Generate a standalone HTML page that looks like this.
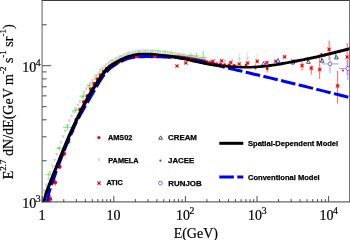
<!DOCTYPE html>
<html><head><meta charset="utf-8"><title>chart</title>
<style>html,body{margin:0;padding:0;background:#fff;}svg{display:block;will-change:transform;}</style>
</head><body>
<svg width="350" height="240" viewBox="0 0 350 240">
<defs><clipPath id="c"><rect x="42.5" y="1" width="307" height="200.6"/></clipPath></defs>
<g fill="none" stroke-width="1">
<line x1="41.60" y1="0.50" x2="350.00" y2="0.50" stroke="#3c3c3c"/>
<line x1="42.10" y1="0.50" x2="42.10" y2="202.40" stroke="#6c6c6c" stroke-width="1.1"/>
<line x1="41.60" y1="201.90" x2="350.00" y2="201.90" stroke="#666" stroke-width="1.1"/>
<line x1="349.50" y1="0.50" x2="349.50" y2="201.90" stroke="#777"/>
</g>
<g stroke="#3a3a3a" stroke-width="0.9">
<line x1="42.20" y1="201.90" x2="42.20" y2="196.10"/>
<line x1="63.75" y1="201.90" x2="63.75" y2="199.10"/>
<line x1="76.36" y1="201.90" x2="76.36" y2="199.10"/>
<line x1="85.31" y1="201.90" x2="85.31" y2="199.10"/>
<line x1="92.25" y1="201.90" x2="92.25" y2="199.10"/>
<line x1="97.92" y1="201.90" x2="97.92" y2="199.10"/>
<line x1="102.71" y1="201.90" x2="102.71" y2="199.10"/>
<line x1="106.86" y1="201.90" x2="106.86" y2="199.10"/>
<line x1="110.52" y1="201.90" x2="110.52" y2="199.10"/>
<line x1="113.80" y1="201.90" x2="113.80" y2="196.10"/>
<line x1="135.35" y1="201.90" x2="135.35" y2="199.10"/>
<line x1="147.96" y1="201.90" x2="147.96" y2="199.10"/>
<line x1="156.91" y1="201.90" x2="156.91" y2="199.10"/>
<line x1="163.85" y1="201.90" x2="163.85" y2="199.10"/>
<line x1="169.52" y1="201.90" x2="169.52" y2="199.10"/>
<line x1="174.31" y1="201.90" x2="174.31" y2="199.10"/>
<line x1="178.46" y1="201.90" x2="178.46" y2="199.10"/>
<line x1="182.12" y1="201.90" x2="182.12" y2="199.10"/>
<line x1="185.40" y1="201.90" x2="185.40" y2="196.10"/>
<line x1="206.95" y1="201.90" x2="206.95" y2="199.10"/>
<line x1="219.56" y1="201.90" x2="219.56" y2="199.10"/>
<line x1="228.51" y1="201.90" x2="228.51" y2="199.10"/>
<line x1="235.45" y1="201.90" x2="235.45" y2="199.10"/>
<line x1="241.12" y1="201.90" x2="241.12" y2="199.10"/>
<line x1="245.91" y1="201.90" x2="245.91" y2="199.10"/>
<line x1="250.06" y1="201.90" x2="250.06" y2="199.10"/>
<line x1="253.72" y1="201.90" x2="253.72" y2="199.10"/>
<line x1="257.00" y1="201.90" x2="257.00" y2="196.10"/>
<line x1="278.55" y1="201.90" x2="278.55" y2="199.10"/>
<line x1="291.16" y1="201.90" x2="291.16" y2="199.10"/>
<line x1="300.11" y1="201.90" x2="300.11" y2="199.10"/>
<line x1="307.05" y1="201.90" x2="307.05" y2="199.10"/>
<line x1="312.72" y1="201.90" x2="312.72" y2="199.10"/>
<line x1="317.51" y1="201.90" x2="317.51" y2="199.10"/>
<line x1="321.66" y1="201.90" x2="321.66" y2="199.10"/>
<line x1="325.32" y1="201.90" x2="325.32" y2="199.10"/>
<line x1="328.60" y1="201.90" x2="328.60" y2="196.10"/>
<line x1="350.15" y1="201.90" x2="350.15" y2="199.10"/>
<line x1="42.10" y1="201.70" x2="51.10" y2="201.70"/>
<line x1="42.10" y1="160.76" x2="46.70" y2="160.76"/>
<line x1="42.10" y1="136.81" x2="46.70" y2="136.81"/>
<line x1="42.10" y1="119.82" x2="46.70" y2="119.82"/>
<line x1="42.10" y1="106.64" x2="46.70" y2="106.64"/>
<line x1="42.10" y1="95.87" x2="46.70" y2="95.87"/>
<line x1="42.10" y1="86.77" x2="46.70" y2="86.77"/>
<line x1="42.10" y1="78.88" x2="46.70" y2="78.88"/>
<line x1="42.10" y1="71.92" x2="46.70" y2="71.92"/>
<line x1="42.10" y1="65.70" x2="51.10" y2="65.70"/>
<line x1="42.10" y1="24.76" x2="46.70" y2="24.76"/>
</g>
<g clip-path="url(#c)">
<g id="pamela">
<line x1="44.20" y1="189.08" x2="44.20" y2="192.48" stroke="#d6d6d6" stroke-width="0.70"/><path d="M42.50,189.28 h3.4 l-1.7,3.3 z" fill="#d2d2d2"/>
<line x1="46.30" y1="183.30" x2="46.30" y2="186.70" stroke="#d6d6d6" stroke-width="0.70"/><path d="M44.60,183.50 h3.4 l-1.7,3.3 z" fill="#d2d2d2"/>
<line x1="48.40" y1="177.50" x2="48.40" y2="180.90" stroke="#d6d6d6" stroke-width="0.70"/><path d="M46.70,177.70 h3.4 l-1.7,3.3 z" fill="#d2d2d2"/>
<line x1="50.50" y1="170.92" x2="50.50" y2="174.32" stroke="#d6d6d6" stroke-width="0.70"/><path d="M48.80,171.12 h3.4 l-1.7,3.3 z" fill="#d2d2d2"/>
<line x1="52.60" y1="164.66" x2="52.60" y2="168.06" stroke="#d6d6d6" stroke-width="0.70"/><path d="M50.90,164.86 h3.4 l-1.7,3.3 z" fill="#d2d2d2"/>
<line x1="54.70" y1="158.64" x2="54.70" y2="162.04" stroke="#d6d6d6" stroke-width="0.70"/><path d="M53.00,158.84 h3.4 l-1.7,3.3 z" fill="#d2d2d2"/>
<line x1="56.80" y1="152.68" x2="56.80" y2="156.08" stroke="#d6d6d6" stroke-width="0.70"/><path d="M55.10,152.88 h3.4 l-1.7,3.3 z" fill="#d2d2d2"/>
<line x1="58.90" y1="146.76" x2="58.90" y2="150.16" stroke="#d6d6d6" stroke-width="0.70"/><path d="M57.20,146.96 h3.4 l-1.7,3.3 z" fill="#d2d2d2"/>
<line x1="61.00" y1="140.91" x2="61.00" y2="144.31" stroke="#d6d6d6" stroke-width="0.70"/><path d="M59.30,141.11 h3.4 l-1.7,3.3 z" fill="#d2d2d2"/>
<line x1="63.10" y1="135.16" x2="63.10" y2="138.56" stroke="#d6d6d6" stroke-width="0.70"/><path d="M61.40,135.36 h3.4 l-1.7,3.3 z" fill="#d2d2d2"/>
<line x1="65.20" y1="129.60" x2="65.20" y2="133.00" stroke="#d6d6d6" stroke-width="0.70"/><path d="M63.50,129.80 h3.4 l-1.7,3.3 z" fill="#d2d2d2"/>
<line x1="67.30" y1="124.32" x2="67.30" y2="127.72" stroke="#d6d6d6" stroke-width="0.70"/><path d="M65.60,124.52 h3.4 l-1.7,3.3 z" fill="#d2d2d2"/>
<line x1="69.40" y1="119.38" x2="69.40" y2="122.78" stroke="#d6d6d6" stroke-width="0.70"/><path d="M67.70,119.58 h3.4 l-1.7,3.3 z" fill="#d2d2d2"/>
<line x1="71.50" y1="114.80" x2="71.50" y2="118.20" stroke="#d6d6d6" stroke-width="0.70"/><path d="M69.80,115.00 h3.4 l-1.7,3.3 z" fill="#d2d2d2"/>
<line x1="73.60" y1="110.71" x2="73.60" y2="114.11" stroke="#d6d6d6" stroke-width="0.70"/><path d="M71.90,110.91 h3.4 l-1.7,3.3 z" fill="#d2d2d2"/>
<line x1="75.70" y1="107.09" x2="75.70" y2="110.49" stroke="#d6d6d6" stroke-width="0.70"/><path d="M74.00,107.29 h3.4 l-1.7,3.3 z" fill="#d2d2d2"/>
<line x1="77.80" y1="103.49" x2="77.80" y2="106.89" stroke="#d6d6d6" stroke-width="0.70"/><path d="M76.10,103.69 h3.4 l-1.7,3.3 z" fill="#d2d2d2"/>
<line x1="79.90" y1="99.99" x2="79.90" y2="103.39" stroke="#d6d6d6" stroke-width="0.70"/><path d="M78.20,100.19 h3.4 l-1.7,3.3 z" fill="#d2d2d2"/>
<line x1="82.00" y1="95.54" x2="82.00" y2="98.94" stroke="#d6d6d6" stroke-width="0.70"/><path d="M80.30,95.74 h3.4 l-1.7,3.3 z" fill="#d2d2d2"/>
<line x1="84.10" y1="90.80" x2="84.10" y2="94.20" stroke="#d6d6d6" stroke-width="0.70"/><path d="M82.40,91.00 h3.4 l-1.7,3.3 z" fill="#d2d2d2"/>
<line x1="86.20" y1="87.39" x2="86.20" y2="90.79" stroke="#d6d6d6" stroke-width="0.70"/><path d="M84.50,87.59 h3.4 l-1.7,3.3 z" fill="#d2d2d2"/>
<line x1="88.30" y1="84.50" x2="88.30" y2="87.90" stroke="#d6d6d6" stroke-width="0.70"/><path d="M86.60,84.70 h3.4 l-1.7,3.3 z" fill="#d2d2d2"/>
<line x1="90.40" y1="81.78" x2="90.40" y2="85.18" stroke="#d6d6d6" stroke-width="0.70"/><path d="M88.70,81.98 h3.4 l-1.7,3.3 z" fill="#d2d2d2"/>
<line x1="92.50" y1="79.10" x2="92.50" y2="82.50" stroke="#d6d6d6" stroke-width="0.70"/><path d="M90.80,79.30 h3.4 l-1.7,3.3 z" fill="#d2d2d2"/>
<line x1="94.60" y1="76.51" x2="94.60" y2="79.91" stroke="#d6d6d6" stroke-width="0.70"/><path d="M92.90,76.71 h3.4 l-1.7,3.3 z" fill="#d2d2d2"/>
<line x1="96.70" y1="74.00" x2="96.70" y2="77.40" stroke="#d6d6d6" stroke-width="0.70"/><path d="M95.00,74.20 h3.4 l-1.7,3.3 z" fill="#d2d2d2"/>
<line x1="98.80" y1="71.57" x2="98.80" y2="74.97" stroke="#d6d6d6" stroke-width="0.70"/><path d="M97.10,71.77 h3.4 l-1.7,3.3 z" fill="#d2d2d2"/>
<line x1="100.10" y1="69.22" x2="100.10" y2="72.62" stroke="#d6d6d6" stroke-width="0.70"/><path d="M98.40,69.42 h3.4 l-1.7,3.3 z" fill="#d2d2d2"/>
<line x1="102.20" y1="67.01" x2="102.20" y2="70.41" stroke="#d6d6d6" stroke-width="0.70"/><path d="M100.50,67.21 h3.4 l-1.7,3.3 z" fill="#d2d2d2"/>
<line x1="104.30" y1="65.06" x2="104.30" y2="68.46" stroke="#d6d6d6" stroke-width="0.70"/><path d="M102.60,65.26 h3.4 l-1.7,3.3 z" fill="#d2d2d2"/>
<line x1="106.40" y1="63.42" x2="106.40" y2="66.82" stroke="#d6d6d6" stroke-width="0.70"/><path d="M104.70,63.62 h3.4 l-1.7,3.3 z" fill="#d2d2d2"/>
<line x1="108.50" y1="61.97" x2="108.50" y2="65.37" stroke="#d6d6d6" stroke-width="0.70"/><path d="M106.80,62.17 h3.4 l-1.7,3.3 z" fill="#d2d2d2"/>
<line x1="110.60" y1="60.57" x2="110.60" y2="63.97" stroke="#d6d6d6" stroke-width="0.70"/><path d="M108.90,60.77 h3.4 l-1.7,3.3 z" fill="#d2d2d2"/>
<line x1="112.70" y1="59.34" x2="112.70" y2="62.74" stroke="#d6d6d6" stroke-width="0.70"/><path d="M111.00,59.54 h3.4 l-1.7,3.3 z" fill="#d2d2d2"/>
<line x1="114.80" y1="58.19" x2="114.80" y2="61.59" stroke="#d6d6d6" stroke-width="0.70"/><path d="M113.10,58.39 h3.4 l-1.7,3.3 z" fill="#d2d2d2"/>
<line x1="116.90" y1="57.07" x2="116.90" y2="60.47" stroke="#d6d6d6" stroke-width="0.70"/><path d="M115.20,57.27 h3.4 l-1.7,3.3 z" fill="#d2d2d2"/>
<line x1="119.00" y1="56.05" x2="119.00" y2="59.45" stroke="#d6d6d6" stroke-width="0.70"/><path d="M117.30,56.25 h3.4 l-1.7,3.3 z" fill="#d2d2d2"/>
<line x1="121.10" y1="55.08" x2="121.10" y2="58.48" stroke="#d6d6d6" stroke-width="0.70"/><path d="M119.40,55.28 h3.4 l-1.7,3.3 z" fill="#d2d2d2"/>
<line x1="123.20" y1="54.12" x2="123.20" y2="57.52" stroke="#d6d6d6" stroke-width="0.70"/><path d="M121.50,54.32 h3.4 l-1.7,3.3 z" fill="#d2d2d2"/>
<line x1="125.30" y1="52.43" x2="125.30" y2="56.63" stroke="#d6d6d6" stroke-width="0.70"/><path d="M123.60,53.43 h3.4 l-1.7,3.3 z" fill="#d2d2d2"/>
<line x1="127.80" y1="51.47" x2="127.80" y2="55.67" stroke="#d6d6d6" stroke-width="0.70"/><path d="M126.10,52.47 h3.4 l-1.7,3.3 z" fill="#d2d2d2"/>
<line x1="130.30" y1="50.69" x2="130.30" y2="54.89" stroke="#d6d6d6" stroke-width="0.70"/><path d="M128.60,51.69 h3.4 l-1.7,3.3 z" fill="#d2d2d2"/>
<line x1="132.80" y1="50.03" x2="132.80" y2="54.23" stroke="#d6d6d6" stroke-width="0.70"/><path d="M131.10,51.03 h3.4 l-1.7,3.3 z" fill="#d2d2d2"/>
<line x1="135.30" y1="49.49" x2="135.30" y2="53.69" stroke="#d6d6d6" stroke-width="0.70"/><path d="M133.60,50.49 h3.4 l-1.7,3.3 z" fill="#d2d2d2"/>
<line x1="137.80" y1="49.08" x2="137.80" y2="53.28" stroke="#d6d6d6" stroke-width="0.70"/><path d="M136.10,50.08 h3.4 l-1.7,3.3 z" fill="#d2d2d2"/>
<line x1="140.30" y1="48.79" x2="140.30" y2="52.99" stroke="#d6d6d6" stroke-width="0.70"/><path d="M138.60,49.79 h3.4 l-1.7,3.3 z" fill="#d2d2d2"/>
<line x1="142.80" y1="48.63" x2="142.80" y2="52.83" stroke="#d6d6d6" stroke-width="0.70"/><path d="M141.10,49.63 h3.4 l-1.7,3.3 z" fill="#d2d2d2"/>
<line x1="145.30" y1="48.60" x2="145.30" y2="52.80" stroke="#d6d6d6" stroke-width="0.70"/><path d="M143.60,49.60 h3.4 l-1.7,3.3 z" fill="#d2d2d2"/>
<line x1="147.80" y1="48.64" x2="147.80" y2="52.84" stroke="#d6d6d6" stroke-width="0.70"/><path d="M146.10,49.64 h3.4 l-1.7,3.3 z" fill="#d2d2d2"/>
<line x1="150.30" y1="48.74" x2="150.30" y2="52.94" stroke="#d6d6d6" stroke-width="0.70"/><path d="M148.60,49.74 h3.4 l-1.7,3.3 z" fill="#d2d2d2"/>
<line x1="152.80" y1="48.87" x2="152.80" y2="53.07" stroke="#d6d6d6" stroke-width="0.70"/><path d="M151.10,49.87 h3.4 l-1.7,3.3 z" fill="#d2d2d2"/>
<line x1="155.30" y1="49.04" x2="155.30" y2="53.24" stroke="#d6d6d6" stroke-width="0.70"/><path d="M153.60,50.04 h3.4 l-1.7,3.3 z" fill="#d2d2d2"/>
<line x1="157.80" y1="49.22" x2="157.80" y2="53.42" stroke="#d6d6d6" stroke-width="0.70"/><path d="M156.10,50.22 h3.4 l-1.7,3.3 z" fill="#d2d2d2"/>
<line x1="160.30" y1="49.43" x2="160.30" y2="53.63" stroke="#d6d6d6" stroke-width="0.70"/><path d="M158.60,50.43 h3.4 l-1.7,3.3 z" fill="#d2d2d2"/>
<line x1="162.80" y1="49.65" x2="162.80" y2="53.85" stroke="#d6d6d6" stroke-width="0.70"/><path d="M161.10,50.65 h3.4 l-1.7,3.3 z" fill="#d2d2d2"/>
<line x1="165.30" y1="49.91" x2="165.30" y2="54.11" stroke="#d6d6d6" stroke-width="0.70"/><path d="M163.60,50.91 h3.4 l-1.7,3.3 z" fill="#d2d2d2"/>
<line x1="167.80" y1="50.20" x2="167.80" y2="54.40" stroke="#d6d6d6" stroke-width="0.70"/><path d="M166.10,51.20 h3.4 l-1.7,3.3 z" fill="#d2d2d2"/>
<line x1="170.30" y1="50.54" x2="170.30" y2="54.74" stroke="#d6d6d6" stroke-width="0.70"/><path d="M168.60,51.54 h3.4 l-1.7,3.3 z" fill="#d2d2d2"/>
<line x1="172.80" y1="50.94" x2="172.80" y2="55.14" stroke="#d6d6d6" stroke-width="0.70"/><path d="M171.10,51.94 h3.4 l-1.7,3.3 z" fill="#d2d2d2"/>
<line x1="175.30" y1="51.39" x2="175.30" y2="55.59" stroke="#d6d6d6" stroke-width="0.70"/><path d="M173.60,52.39 h3.4 l-1.7,3.3 z" fill="#d2d2d2"/>
<line x1="177.80" y1="51.88" x2="177.80" y2="56.08" stroke="#d6d6d6" stroke-width="0.70"/><path d="M176.10,52.88 h3.4 l-1.7,3.3 z" fill="#d2d2d2"/>
<line x1="180.30" y1="52.41" x2="180.30" y2="56.61" stroke="#d6d6d6" stroke-width="0.70"/><path d="M178.60,53.41 h3.4 l-1.7,3.3 z" fill="#d2d2d2"/>
<line x1="182.80" y1="52.95" x2="182.80" y2="57.15" stroke="#d6d6d6" stroke-width="0.70"/><path d="M181.10,53.95 h3.4 l-1.7,3.3 z" fill="#d2d2d2"/>
<line x1="185.30" y1="53.48" x2="185.30" y2="57.68" stroke="#d6d6d6" stroke-width="0.70"/><path d="M183.60,54.48 h3.4 l-1.7,3.3 z" fill="#d2d2d2"/>
<line x1="187.80" y1="54.02" x2="187.80" y2="58.22" stroke="#d6d6d6" stroke-width="0.70"/><path d="M186.10,55.02 h3.4 l-1.7,3.3 z" fill="#d2d2d2"/>
<line x1="190.30" y1="54.57" x2="190.30" y2="58.77" stroke="#d6d6d6" stroke-width="0.70"/><path d="M188.60,55.57 h3.4 l-1.7,3.3 z" fill="#d2d2d2"/>
<line x1="192.80" y1="55.12" x2="192.80" y2="59.32" stroke="#d6d6d6" stroke-width="0.70"/><path d="M191.10,56.12 h3.4 l-1.7,3.3 z" fill="#d2d2d2"/>
<line x1="195.30" y1="55.65" x2="195.30" y2="59.85" stroke="#d6d6d6" stroke-width="0.70"/><path d="M193.60,56.65 h3.4 l-1.7,3.3 z" fill="#d2d2d2"/>
<line x1="197.80" y1="56.18" x2="197.80" y2="60.38" stroke="#d6d6d6" stroke-width="0.70"/><path d="M196.10,57.18 h3.4 l-1.7,3.3 z" fill="#d2d2d2"/>
<line x1="200.30" y1="56.72" x2="200.30" y2="60.92" stroke="#d6d6d6" stroke-width="0.70"/><path d="M198.60,57.72 h3.4 l-1.7,3.3 z" fill="#d2d2d2"/>
<line x1="202.80" y1="57.23" x2="202.80" y2="61.43" stroke="#d6d6d6" stroke-width="0.70"/><path d="M201.10,58.23 h3.4 l-1.7,3.3 z" fill="#d2d2d2"/>
<line x1="205.30" y1="57.69" x2="205.30" y2="61.89" stroke="#d6d6d6" stroke-width="0.70"/><path d="M203.60,58.69 h3.4 l-1.7,3.3 z" fill="#d2d2d2"/>
<line x1="214.90" y1="57.70" x2="214.90" y2="62.70" stroke="#d6d6d6" stroke-width="0.70"/><path d="M213.20,58.80 h3.4 l-1.7,3.3 z" fill="#d2d2d2"/>
<line x1="224.80" y1="58.90" x2="224.80" y2="63.90" stroke="#d6d6d6" stroke-width="0.70"/><path d="M223.10,60.00 h3.4 l-1.7,3.3 z" fill="#d2d2d2"/>
<line x1="232.00" y1="58.10" x2="232.00" y2="63.10" stroke="#d6d6d6" stroke-width="0.70"/><path d="M230.30,59.20 h3.4 l-1.7,3.3 z" fill="#d2d2d2"/>
<line x1="239.40" y1="52.80" x2="239.40" y2="63.80" stroke="#d6d6d6" stroke-width="0.70"/><path d="M237.70,57.40 h3.4 l-1.7,3.3 z" fill="#d2d2d2"/>
<line x1="247.60" y1="52.50" x2="247.60" y2="64.70" stroke="#d6d6d6" stroke-width="0.70"/><path d="M245.90,57.30 h3.4 l-1.7,3.3 z" fill="#d2d2d2"/>
<line x1="257.00" y1="53.20" x2="257.00" y2="69.20" stroke="#d6d6d6" stroke-width="0.70"/><path d="M255.30,58.80 h3.4 l-1.7,3.3 z" fill="#d2d2d2"/>
</g>
<g id="green">
<line x1="48.90" y1="172.20" x2="48.90" y2="177.20" stroke="#38e238" stroke-width="0.70"/><line x1="45.90" y1="174.70" x2="51.90" y2="174.70" stroke="#38e238" stroke-width="0.70"/>
<line x1="59.30" y1="145.70" x2="59.30" y2="150.70" stroke="#38e238" stroke-width="0.70"/><line x1="56.10" y1="148.20" x2="62.50" y2="148.20" stroke="#38e238" stroke-width="0.70"/>
<line x1="67.40" y1="124.30" x2="67.40" y2="130.30" stroke="#38e238" stroke-width="0.70"/><line x1="63.10" y1="127.30" x2="71.70" y2="127.30" stroke="#38e238" stroke-width="0.70"/>
<line x1="75.80" y1="107.90" x2="75.80" y2="112.90" stroke="#38e238" stroke-width="0.70"/><line x1="72.40" y1="110.40" x2="79.20" y2="110.40" stroke="#38e238" stroke-width="0.70"/>
<line x1="83.50" y1="93.70" x2="83.50" y2="98.70" stroke="#38e238" stroke-width="0.70"/><line x1="79.50" y1="96.10" x2="86.50" y2="96.10" stroke="#38e238" stroke-width="0.70"/>
<line x1="89.50" y1="83.50" x2="89.50" y2="87.90" stroke="#38e238" stroke-width="0.70"/><line x1="86.90" y1="85.70" x2="92.10" y2="85.70" stroke="#38e238" stroke-width="0.70"/>
<line x1="95.70" y1="73.80" x2="95.70" y2="77.80" stroke="#7cea7c" stroke-width="0.55"/><line x1="93.30" y1="75.80" x2="98.10" y2="75.80" stroke="#7cea7c" stroke-width="0.55"/>
<line x1="102.40" y1="67.20" x2="102.40" y2="70.80" stroke="#7cea7c" stroke-width="0.55"/><line x1="100.00" y1="69.00" x2="104.80" y2="69.00" stroke="#7cea7c" stroke-width="0.55"/>
<line x1="111.70" y1="58.60" x2="111.70" y2="62.20" stroke="#7cea7c" stroke-width="0.55"/><line x1="109.30" y1="60.40" x2="114.10" y2="60.40" stroke="#7cea7c" stroke-width="0.55"/>
<line x1="120.00" y1="54.40" x2="120.00" y2="57.60" stroke="#7cea7c" stroke-width="0.55"/><line x1="118.00" y1="56.00" x2="122.00" y2="56.00" stroke="#7cea7c" stroke-width="0.55"/>
<line x1="128.50" y1="51.60" x2="128.50" y2="54.80" stroke="#7cea7c" stroke-width="0.55"/><line x1="126.50" y1="53.20" x2="130.50" y2="53.20" stroke="#7cea7c" stroke-width="0.55"/>
<line x1="139.00" y1="50.00" x2="139.00" y2="53.20" stroke="#7cea7c" stroke-width="0.55"/><line x1="137.00" y1="51.60" x2="141.00" y2="51.60" stroke="#7cea7c" stroke-width="0.55"/>
<line x1="145.40" y1="50.00" x2="145.40" y2="53.20" stroke="#7cea7c" stroke-width="0.55"/><line x1="143.40" y1="51.60" x2="147.40" y2="51.60" stroke="#7cea7c" stroke-width="0.55"/>
<line x1="152.00" y1="50.30" x2="152.00" y2="53.50" stroke="#7cea7c" stroke-width="0.55"/><line x1="150.00" y1="51.90" x2="154.00" y2="51.90" stroke="#7cea7c" stroke-width="0.55"/>
<line x1="158.20" y1="49.60" x2="158.20" y2="53.60" stroke="#7cea7c" stroke-width="0.55"/><line x1="156.00" y1="51.60" x2="160.40" y2="51.60" stroke="#7cea7c" stroke-width="0.55"/>
<line x1="164.90" y1="49.40" x2="164.90" y2="54.40" stroke="#7cea7c" stroke-width="0.55"/><line x1="162.70" y1="51.80" x2="167.10" y2="51.80" stroke="#7cea7c" stroke-width="0.55"/>
<line x1="171.60" y1="51.60" x2="171.60" y2="55.60" stroke="#7cea7c" stroke-width="0.55"/><line x1="169.20" y1="53.60" x2="174.00" y2="53.60" stroke="#7cea7c" stroke-width="0.55"/>
<line x1="178.30" y1="52.30" x2="178.30" y2="56.30" stroke="#7cea7c" stroke-width="0.55"/><line x1="175.70" y1="54.30" x2="180.90" y2="54.30" stroke="#7cea7c" stroke-width="0.55"/>
<line x1="183.90" y1="52.30" x2="183.90" y2="56.70" stroke="#7cea7c" stroke-width="0.55"/><line x1="181.30" y1="54.50" x2="186.50" y2="54.50" stroke="#7cea7c" stroke-width="0.55"/>
<line x1="190.80" y1="52.60" x2="190.80" y2="57.60" stroke="#38e238" stroke-width="0.70"/><line x1="187.20" y1="55.60" x2="194.40" y2="55.60" stroke="#38e238" stroke-width="0.70"/>
<line x1="196.60" y1="52.80" x2="196.60" y2="58.00" stroke="#38e238" stroke-width="0.70"/><line x1="194.00" y1="56.00" x2="199.20" y2="56.00" stroke="#38e238" stroke-width="0.70"/>
<line x1="203.20" y1="50.60" x2="203.20" y2="60.00" stroke="#38e238" stroke-width="0.70"/><line x1="199.20" y1="57.40" x2="206.80" y2="57.40" stroke="#38e238" stroke-width="0.70"/>
</g>
<g id="ams">
<line x1="50.35" y1="195.02" x2="50.35" y2="203.02" stroke="#ff2020" stroke-width="0.80"/>
<circle cx="50.35" cy="199.02" r="1.90" fill="#ff0000"/>
<line x1="55.21" y1="179.26" x2="55.21" y2="185.66" stroke="#ff2020" stroke-width="0.80"/>
<circle cx="55.21" cy="182.46" r="1.90" fill="#ff0000"/>
<line x1="59.81" y1="164.18" x2="59.81" y2="169.38" stroke="#ff2020" stroke-width="0.80"/>
<circle cx="59.81" cy="166.78" r="1.90" fill="#ff0000"/>
<line x1="64.22" y1="151.70" x2="64.22" y2="155.70" stroke="#ff2020" stroke-width="0.80"/>
<circle cx="64.22" cy="153.70" r="1.90" fill="#ff0000"/>
<line x1="68.44" y1="140.27" x2="68.44" y2="143.07" stroke="#ff2020" stroke-width="0.80"/>
<circle cx="68.44" cy="141.67" r="1.90" fill="#ff0000"/>
<circle cx="72.47" cy="131.11" r="1.90" fill="#ff0000"/>
<circle cx="76.37" cy="119.77" r="1.90" fill="#ff0000"/>
<circle cx="80.12" cy="109.32" r="1.90" fill="#ff0000"/>
<circle cx="83.76" cy="101.89" r="1.90" fill="#ff0000"/>
<circle cx="87.31" cy="95.98" r="1.90" fill="#ff0000"/>
<circle cx="90.77" cy="89.12" r="1.90" fill="#ff0000"/>
<circle cx="94.12" cy="83.69" r="1.90" fill="#ff0000"/>
<circle cx="97.39" cy="79.12" r="1.90" fill="#ff0000"/>
<circle cx="100.59" cy="75.04" r="1.90" fill="#ff0000"/>
<circle cx="103.71" cy="71.60" r="1.90" fill="#ff0000"/>
<circle cx="106.76" cy="68.67" r="1.90" fill="#ff0000"/>
<circle cx="109.75" cy="66.36" r="1.90" fill="#ff0000"/>
<circle cx="112.67" cy="64.64" r="1.90" fill="#ff0000"/>
<circle cx="115.58" cy="63.25" r="1.90" fill="#ff0000"/>
<circle cx="118.38" cy="62.04" r="1.90" fill="#ff0000"/>
<circle cx="121.07" cy="60.87" r="1.90" fill="#ff0000"/>
<circle cx="123.77" cy="59.69" r="1.90" fill="#ff0000"/>
<circle cx="126.46" cy="58.62" r="1.90" fill="#ff0000"/>
<circle cx="129.13" cy="57.75" r="1.90" fill="#ff0000"/>
<circle cx="131.77" cy="57.01" r="1.90" fill="#ff0000"/>
<circle cx="134.36" cy="56.58" r="1.90" fill="#ff0000"/>
<circle cx="136.89" cy="56.38" r="1.90" fill="#ff0000"/>
<circle cx="139.44" cy="56.28" r="1.90" fill="#ff0000"/>
<circle cx="141.99" cy="56.23" r="1.90" fill="#ff0000"/>
<circle cx="144.46" cy="56.23" r="1.90" fill="#ff0000"/>
<circle cx="146.91" cy="56.24" r="1.90" fill="#ff0000"/>
<circle cx="149.33" cy="56.25" r="1.90" fill="#ff0000"/>
<circle cx="151.72" cy="56.28" r="1.90" fill="#ff0000"/>
<circle cx="154.10" cy="56.30" r="1.90" fill="#ff0000"/>
<circle cx="156.47" cy="56.31" r="1.90" fill="#ff0000"/>
<circle cx="158.82" cy="56.33" r="1.90" fill="#ff0000"/>
<circle cx="161.15" cy="56.36" r="1.90" fill="#ff0000"/>
<circle cx="163.46" cy="56.39" r="1.90" fill="#ff0000"/>
<circle cx="165.77" cy="56.45" r="1.90" fill="#ff0000"/>
<circle cx="168.05" cy="56.52" r="1.90" fill="#ff0000"/>
<circle cx="170.32" cy="56.62" r="1.90" fill="#ff0000"/>
<circle cx="172.61" cy="56.73" r="1.90" fill="#ff0000"/>
<circle cx="174.89" cy="56.86" r="1.90" fill="#ff0000"/>
<circle cx="177.16" cy="57.02" r="1.90" fill="#ff0000"/>
<circle cx="179.42" cy="57.20" r="1.90" fill="#ff0000"/>
<circle cx="181.69" cy="57.43" r="1.90" fill="#ff0000"/>
<circle cx="183.97" cy="57.70" r="1.90" fill="#ff0000"/>
<circle cx="186.32" cy="58.03" r="1.90" fill="#ff0000"/>
<circle cx="188.64" cy="58.39" r="1.90" fill="#ff0000"/>
<circle cx="190.93" cy="58.79" r="1.90" fill="#ff0000"/>
<circle cx="193.31" cy="59.21" r="1.90" fill="#ff0000"/>
<circle cx="195.85" cy="59.69" r="1.90" fill="#ff0000"/>
<circle cx="198.51" cy="60.20" r="1.90" fill="#ff0000"/>
<circle cx="201.23" cy="60.77" r="1.90" fill="#ff0000"/>
<circle cx="204.08" cy="61.48" r="1.90" fill="#ff0000"/>
<circle cx="207.01" cy="62.20" r="1.90" fill="#ff0000"/>
<circle cx="210.03" cy="62.84" r="1.90" fill="#ff0000"/>
<circle cx="213.23" cy="63.46" r="1.90" fill="#ff0000"/>
<circle cx="216.70" cy="64.11" r="1.90" fill="#ff0000"/>
<circle cx="220.48" cy="64.73" r="1.90" fill="#ff0000"/>
<circle cx="224.60" cy="65.17" r="1.90" fill="#ff0000"/>
<circle cx="229.11" cy="65.51" r="1.90" fill="#ff0000"/>
<circle cx="234.19" cy="65.84" r="1.90" fill="#ff0000"/>
<line x1="246.10" y1="64.10" x2="246.10" y2="66.10" stroke="#ff2020" stroke-width="0.70"/>
<circle cx="246.10" cy="65.10" r="1.50" fill="#ff0000"/>
<line x1="255.40" y1="64.30" x2="255.40" y2="69.60" stroke="#ff2020" stroke-width="0.70"/>
<circle cx="255.40" cy="67.40" r="1.50" fill="#ff0000"/>
<line x1="267.20" y1="64.90" x2="267.20" y2="72.60" stroke="#ff2020" stroke-width="0.70"/>
<circle cx="267.20" cy="68.40" r="1.50" fill="#ff0000"/>
</g>
<g id="atic">
<path d="M174.90,63.90 L177.00,64.90 L179.10,63.90 L178.10,66.00 L179.10,68.10 L177.00,67.10 L174.90,68.10 L175.90,66.00Z" fill="#ff0000"/>
<path d="M183.70,60.70 L185.80,61.70 L187.90,60.70 L186.90,62.80 L187.90,64.90 L185.80,63.90 L183.70,64.90 L184.70,62.80Z" fill="#ff0000"/>
<path d="M192.60,58.50 L194.70,59.50 L196.80,58.50 L195.80,60.60 L196.80,62.70 L194.70,61.70 L192.60,62.70 L193.60,60.60Z" fill="#ff0000"/>
<path d="M201.50,58.90 L203.60,59.90 L205.70,58.90 L204.70,61.00 L205.70,63.10 L203.60,62.10 L201.50,63.10 L202.50,61.00Z" fill="#ff0000"/>
<path d="M210.50,59.20 L212.60,60.20 L214.70,59.20 L213.70,61.30 L214.70,63.40 L212.60,62.40 L210.50,63.40 L211.50,61.30Z" fill="#ff0000"/>
<path d="M219.50,58.70 L221.60,59.70 L223.70,58.70 L222.70,60.80 L223.70,62.90 L221.60,61.90 L219.50,62.90 L220.50,60.80Z" fill="#ff0000"/>
<path d="M228.60,60.40 L230.70,61.40 L232.80,60.40 L231.80,62.50 L232.80,64.60 L230.70,63.60 L228.60,64.60 L229.60,62.50Z" fill="#ff0000"/>
<path d="M237.10,61.90 L239.20,62.90 L241.30,61.90 L240.30,64.00 L241.30,66.10 L239.20,65.10 L237.10,66.10 L238.10,64.00Z" fill="#ff0000"/>
<path d="M245.50,60.90 L247.60,61.90 L249.70,60.90 L248.70,63.00 L249.70,65.10 L247.60,64.10 L245.50,65.10 L246.50,63.00Z" fill="#ff0000"/>
<path d="M255.10,59.20 L257.20,60.20 L259.30,59.20 L258.30,61.30 L259.30,63.40 L257.20,62.40 L255.10,63.40 L256.10,61.30Z" fill="#ff0000"/>
<path d="M264.70,60.40 L266.80,61.40 L268.90,60.40 L267.90,62.50 L268.90,64.60 L266.80,63.60 L264.70,64.60 L265.70,62.50Z" fill="#ff0000"/>
<path d="M273.70,59.20 L275.80,60.20 L277.90,59.20 L276.90,61.30 L277.90,63.40 L275.80,62.40 L273.70,63.40 L274.70,61.30Z" fill="#ff0000"/>
<path d="M282.50,54.80 L284.60,55.80 L286.70,54.80 L285.70,56.90 L286.70,59.00 L284.60,58.00 L282.50,59.00 L283.50,56.90Z" fill="#ff0000"/>
<path d="M290.70,58.90 L292.80,59.90 L294.90,58.90 L293.90,61.00 L294.90,63.10 L292.80,62.10 L290.70,63.10 L291.70,61.00Z" fill="#ff0000"/>
<line x1="302.10" y1="61.90" x2="302.10" y2="70.60" stroke="#ff2020" stroke-width="0.70"/><path d="M300.00,63.60 L302.10,64.60 L304.20,63.60 L303.20,65.70 L304.20,67.80 L302.10,66.80 L300.00,67.80 L301.00,65.70Z" fill="#ff0000"/>
<line x1="311.30" y1="65.30" x2="311.30" y2="74.50" stroke="#ff2020" stroke-width="0.70"/><path d="M309.20,66.10 L311.30,67.10 L313.40,66.10 L312.40,68.20 L313.40,70.30 L311.30,69.30 L309.20,70.30 L310.20,68.20Z" fill="#ff0000"/>
<line x1="319.70" y1="54.50" x2="319.70" y2="79.00" stroke="#ff2020" stroke-width="0.70"/><path d="M317.60,67.40 L319.70,68.40 L321.80,67.40 L320.80,69.50 L321.80,71.60 L319.70,70.60 L317.60,71.60 L318.60,69.50Z" fill="#ff0000"/>
<line x1="329.10" y1="40.60" x2="329.10" y2="60.00" stroke="#ff2020" stroke-width="0.70"/><path d="M327.00,47.30 L329.10,48.30 L331.20,47.30 L330.20,49.40 L331.20,51.50 L329.10,50.50 L327.00,51.50 L328.00,49.40Z" fill="#ff0000"/>
<line x1="337.60" y1="71.00" x2="337.60" y2="103.60" stroke="#ff2020" stroke-width="0.70"/><path d="M335.50,83.80 L337.60,84.80 L339.70,83.80 L338.70,85.90 L339.70,88.00 L337.60,87.00 L335.50,88.00 L336.50,85.90Z" fill="#ff0000"/>
<line x1="347.20" y1="43.00" x2="347.20" y2="75.00" stroke="#ff2020" stroke-width="0.70"/><path d="M345.10,54.90 L347.20,55.90 L349.30,54.90 L348.30,57.00 L349.30,59.10 L347.20,58.10 L345.10,59.10 L346.10,57.00Z" fill="#ff0000"/>
</g>
<g id="cream">
<line x1="263.60" y1="61.20" x2="263.60" y2="66.40" stroke="#5050ff" stroke-width="0.90"/>
<path d="M263.60,61.80 l1.9,3.3 h-3.8 z" fill="#fff" stroke="#3030ff" stroke-width="0.85"/>
<line x1="278.10" y1="58.20" x2="278.10" y2="63.40" stroke="#5050ff" stroke-width="0.90"/>
<path d="M278.10,58.80 l1.9,3.3 h-3.8 z" fill="#fff" stroke="#3030ff" stroke-width="0.85"/>
<line x1="292.80" y1="60.00" x2="292.80" y2="65.20" stroke="#5050ff" stroke-width="0.90"/>
<path d="M292.80,60.60 l1.9,3.3 h-3.8 z" fill="#fff" stroke="#3030ff" stroke-width="0.85"/>
<line x1="307.80" y1="58.60" x2="307.80" y2="62.00" stroke="#4040ff" stroke-width="1.00"/>
<path d="M308.40,60.00 l1.9,3.3 h-3.8 z" fill="#fff" stroke="#333" stroke-width="0.85" stroke-linejoin="miter"/>
<line x1="321.60" y1="57.50" x2="321.60" y2="60.90" stroke="#4040ff" stroke-width="1.00"/>
<path d="M322.20,58.90 l1.9,3.3 h-3.8 z" fill="#fff" stroke="#333" stroke-width="0.85" stroke-linejoin="miter"/>
<line x1="335.80" y1="54.20" x2="335.80" y2="57.60" stroke="#4040ff" stroke-width="1.00"/>
<path d="M336.40,55.60 l1.9,3.3 h-3.8 z" fill="#fff" stroke="#333" stroke-width="0.85" stroke-linejoin="miter"/>
</g>
<circle cx="321.40" cy="54.00" r="1.05" fill="#ff0000"/>
<circle cx="342.90" cy="70.50" r="1.05" fill="#ff0000"/>
<line x1="330.00" y1="56.70" x2="330.00" y2="73.30" stroke="#8a8aff" stroke-width="0.80"/><line x1="321.60" y1="63.90" x2="338.80" y2="63.90" stroke="#8a8aff" stroke-width="0.80"/><circle cx="330.00" cy="63.90" r="1.85" fill="#fff" stroke="#5b5bff" stroke-width="0.85"/>
<line x1="347.90" y1="59.60" x2="347.90" y2="80.20" stroke="#8a8aff" stroke-width="0.80"/><line x1="338.80" y1="68.50" x2="351.90" y2="68.50" stroke="#8a8aff" stroke-width="0.80"/><circle cx="347.90" cy="68.50" r="1.85" fill="#fff" stroke="#5b5bff" stroke-width="0.85"/>
<defs><clipPath id="cu"><rect x="0" y="0" width="350" height="150"/></clipPath><clipPath id="cl"><rect x="0" y="150" width="350" height="60"/></clipPath></defs>
<g clip-path="url(#cu)"><path d="M43.10,216.00 L43.78,213.67 L44.49,211.24 L45.21,208.81 L45.89,206.48 L46.49,204.34 L47.00,202.50 L47.38,201.01 L47.65,199.80 L47.86,198.78 L48.03,197.87 L48.20,196.97 L48.40,196.00 L48.53,195.25 L48.52,194.85 L48.52,194.47 L48.64,193.76 L49.03,192.38 L49.80,190.00 L51.03,186.39 L52.62,181.78 L54.47,176.50 L56.47,170.89 L58.52,165.28 L60.50,160.00 L62.55,154.77 L64.76,149.26 L67.02,143.75 L69.20,138.52 L71.17,133.84 L72.80,130.00 L74.01,127.18 L74.90,125.19 L75.57,123.75 L76.16,122.59 L76.76,121.44 L77.50,120.00 L78.37,118.33 L79.26,116.67 L80.17,115.00 L81.11,113.33 L82.05,111.67 L83.00,110.00 L83.89,108.45 L84.72,107.04 L85.56,105.62 L86.49,104.07 L87.58,102.25 L88.90,100.00 L90.56,97.12 L92.53,93.69 L94.66,89.98 L96.80,86.27 L98.83,82.85 L100.60,80.00 L102.09,77.75 L103.41,75.88 L104.61,74.29 L105.74,72.91 L106.85,71.64 L108.00,70.40 L109.17,69.23 L110.31,68.20 L111.44,67.29 L112.56,66.46 L113.67,65.67 L114.80,64.90 L115.93,64.16 L117.07,63.47 L118.20,62.83 L119.33,62.22 L120.47,61.65 L121.60,61.10 L122.71,60.57 L123.80,60.07 L124.89,59.61 L126.00,59.17 L127.16,58.77 L128.40,58.40 L129.72,58.07 L131.12,57.77 L132.56,57.50 L134.04,57.27 L135.52,57.07 L137.00,56.90 L138.48,56.78 L139.97,56.70 L141.47,56.65 L142.99,56.63 L144.50,56.61 L146.00,56.60 L147.50,56.59 L149.00,56.60 L150.50,56.62 L152.00,56.64 L153.50,56.67 L155.00,56.70 L156.53,56.73 L158.11,56.76 L159.69,56.79 L161.22,56.82 L162.67,56.86 L164.00,56.90 L165.15,56.94 L166.15,56.99 L167.06,57.03 L167.96,57.08 L168.92,57.14 L170.00,57.20 L171.21,57.27 L172.48,57.33 L173.81,57.41 L175.19,57.49 L176.59,57.59 L178.00,57.70 L179.41,57.82 L180.81,57.95 L182.25,58.09 L183.74,58.25 L185.31,58.45 L187.00,58.70 L188.87,59.01 L190.93,59.39 L193.06,59.79 L195.19,60.21 L197.20,60.62 L199.00,61.00 L200.58,61.34 L202.00,61.67 L203.31,61.99 L204.56,62.30 L205.77,62.60 L207.00,62.90 L208.22,63.19 L209.40,63.48 L210.54,63.76 L211.68,64.03 L212.83,64.31 L214.00,64.60 L215.13,64.88 L216.19,65.14 L217.25,65.41 L218.40,65.69 L219.73,66.02 L221.30,66.40 L223.14,66.84 L225.20,67.34 L227.42,67.87 L229.77,68.43 L232.21,69.01 L234.70,69.60 L237.26,70.20 L239.92,70.83 L242.67,71.47 L245.49,72.14 L248.37,72.81 L251.30,73.50 L254.16,74.17 L256.96,74.82 L259.81,75.49 L262.85,76.20 L266.21,76.99 L270.00,77.90 L274.40,78.96 L279.35,80.16 L284.61,81.44 L289.95,82.74 L295.16,84.01 L300.00,85.20 L304.47,86.30 L308.74,87.36 L312.88,88.38 L316.93,89.39 L320.95,90.39 L325.00,91.40 L329.16,92.44 L333.41,93.50 L337.62,94.55 L341.70,95.57 L345.53,96.53 L349.00,97.40 L352.02,98.16 L354.67,98.83 L357.06,99.44 L359.33,100.01 L361.60,100.59 L364.00,101.20" fill="none" stroke="#0000ff" stroke-width="3.00" stroke-dasharray="14.76 3.40" stroke-dashoffset="5.17"/></g>
<g clip-path="url(#cl)"><path d="M43.10,216.00 L43.78,213.67 L44.49,211.24 L45.21,208.81 L45.89,206.48 L46.49,204.34 L47.00,202.50 L47.38,201.01 L47.65,199.80 L47.86,198.78 L48.03,197.87 L48.20,196.97 L48.40,196.00 L48.53,195.25 L48.52,194.85 L48.52,194.47 L48.64,193.76 L49.03,192.38 L49.80,190.00 L51.03,186.39 L52.62,181.78 L54.47,176.50 L56.47,170.89 L58.52,165.28 L60.50,160.00 L62.55,154.77 L64.76,149.26 L67.02,143.75 L69.20,138.52 L71.17,133.84 L72.80,130.00 L74.01,127.18 L74.90,125.19 L75.57,123.75 L76.16,122.59 L76.76,121.44 L77.50,120.00 L78.37,118.33 L79.26,116.67 L80.17,115.00 L81.11,113.33 L82.05,111.67 L83.00,110.00 L83.89,108.45 L84.72,107.04 L85.56,105.62 L86.49,104.07 L87.58,102.25 L88.90,100.00 L90.56,97.12 L92.53,93.69 L94.66,89.98 L96.80,86.27 L98.83,82.85 L100.60,80.00 L102.09,77.75 L103.41,75.88 L104.61,74.29 L105.74,72.91 L106.85,71.64 L108.00,70.40 L109.17,69.23 L110.31,68.20 L111.44,67.29 L112.56,66.46 L113.67,65.67 L114.80,64.90 L115.93,64.16 L117.07,63.47 L118.20,62.83 L119.33,62.22 L120.47,61.65 L121.60,61.10 L122.71,60.57 L123.80,60.07 L124.89,59.61 L126.00,59.17 L127.16,58.77 L128.40,58.40 L129.72,58.07 L131.12,57.77 L132.56,57.50 L134.04,57.27 L135.52,57.07 L137.00,56.90 L138.48,56.78 L139.97,56.70 L141.47,56.65 L142.99,56.63 L144.50,56.61 L146.00,56.60 L147.50,56.59 L149.00,56.60 L150.50,56.62 L152.00,56.64 L153.50,56.67 L155.00,56.70 L156.53,56.73 L158.11,56.76 L159.69,56.79 L161.22,56.82 L162.67,56.86 L164.00,56.90 L165.15,56.94 L166.15,56.99 L167.06,57.03 L167.96,57.08 L168.92,57.14 L170.00,57.20 L171.21,57.27 L172.48,57.33 L173.81,57.41 L175.19,57.49 L176.59,57.59 L178.00,57.70 L179.41,57.82 L180.81,57.95 L182.25,58.09 L183.74,58.25 L185.31,58.45 L187.00,58.70 L188.87,59.01 L190.93,59.39 L193.06,59.79 L195.19,60.21 L197.20,60.62 L199.00,61.00 L200.58,61.34 L202.00,61.67 L203.31,61.99 L204.56,62.30 L205.77,62.60 L207.00,62.90 L208.22,63.19 L209.40,63.48 L210.54,63.76 L211.68,64.03 L212.83,64.31 L214.00,64.60 L215.13,64.88 L216.19,65.14 L217.25,65.41 L218.40,65.69 L219.73,66.02 L221.30,66.40 L223.14,66.84 L225.20,67.34 L227.42,67.87 L229.77,68.43 L232.21,69.01 L234.70,69.60 L237.26,70.20 L239.92,70.83 L242.67,71.47 L245.49,72.14 L248.37,72.81 L251.30,73.50 L254.16,74.17 L256.96,74.82 L259.81,75.49 L262.85,76.20 L266.21,76.99 L270.00,77.90 L274.40,78.96 L279.35,80.16 L284.61,81.44 L289.95,82.74 L295.16,84.01 L300.00,85.20 L304.47,86.30 L308.74,87.36 L312.88,88.38 L316.93,89.39 L320.95,90.39 L325.00,91.40 L329.16,92.44 L333.41,93.50 L337.62,94.55 L341.70,95.57 L345.53,96.53 L349.00,97.40 L352.02,98.16 L354.67,98.83 L357.06,99.44 L359.33,100.01 L361.60,100.59 L364.00,101.20" fill="none" stroke="#0000ff" stroke-width="3.00" stroke-dasharray="14.76 3.40" stroke-dashoffset="4.13"/></g>
<path d="M38.98,214.78 L39.60,212.44 L42.05,212.44 L42.05,214.89 L41.43,217.22 L38.98,217.22Z M39.60,212.44 L40.25,210.02 L42.70,210.02 L42.70,212.47 L42.05,214.89 L39.60,214.89Z M40.25,210.02 L40.90,207.59 L43.35,207.59 L43.35,210.04 L42.70,212.47 L40.25,212.47Z M40.90,207.59 L41.52,205.26 L43.97,205.26 L43.97,207.71 L43.35,210.04 L40.90,210.04Z M41.52,205.26 L42.09,203.12 L44.54,203.12 L44.54,205.57 L43.97,207.71 L41.52,207.71Z M42.09,203.12 L42.57,201.28 L45.02,201.28 L45.02,203.72 L44.54,205.57 L42.09,205.57Z M42.57,201.28 L42.95,199.78 L45.40,199.78 L45.40,202.23 L45.02,203.72 L42.57,203.72Z M42.95,199.78 L43.25,198.57 L45.70,198.57 L45.70,201.02 L45.40,202.23 L42.95,202.23Z M43.25,198.57 L43.48,197.56 L45.93,197.56 L45.93,200.01 L45.70,201.02 L43.25,201.02Z M43.48,197.56 L43.69,196.65 L46.14,196.65 L46.14,199.10 L45.93,200.01 L43.48,200.01Z M43.69,196.65 L43.91,195.75 L46.36,195.75 L46.36,198.20 L46.14,199.10 L43.69,199.10Z M43.91,195.75 L44.17,194.78 L46.62,194.78 L46.62,197.22 L46.36,198.20 L43.91,198.20Z M44.17,194.78 L44.36,194.02 L46.81,194.02 L46.81,196.47 L46.62,197.22 L44.17,197.22Z M44.36,194.02 L44.41,193.63 L46.86,193.63 L46.86,196.08 L46.81,196.47 L44.36,196.47Z M44.41,193.63 L44.48,193.24 L46.93,193.24 L46.93,195.69 L46.86,196.08 L44.41,196.08Z M44.48,193.24 L44.69,192.53 L47.14,192.53 L47.14,194.98 L46.93,195.69 L44.48,195.69Z M44.69,192.53 L45.17,191.16 L47.62,191.16 L47.62,193.61 L47.14,194.98 L44.69,194.98Z M45.17,191.16 L46.07,188.78 L48.52,188.78 L48.52,191.22 L47.62,193.61 L45.17,193.61Z M46.07,188.78 L47.48,185.16 L49.93,185.16 L49.93,187.61 L48.52,191.22 L46.07,191.22Z M47.48,185.16 L49.30,180.55 L51.75,180.55 L51.75,183.00 L49.93,187.61 L47.48,187.61Z M49.30,180.55 L51.39,175.28 L53.84,175.28 L53.84,177.72 L51.75,183.00 L49.30,183.00Z M51.39,175.28 L53.63,169.66 L56.08,169.66 L56.08,172.11 L53.84,177.72 L51.39,177.72Z M53.63,169.66 L55.89,164.05 L58.34,164.05 L58.34,166.50 L56.08,172.11 L53.63,172.11Z M55.89,164.05 L58.03,158.78 L60.48,158.78 L60.48,161.22 L58.34,166.50 L55.89,166.50Z M58.03,158.78 L60.06,153.78 L62.51,153.78 L62.51,156.22 L60.48,161.22 L58.03,161.22Z M60.06,153.78 L62.09,148.78 L64.54,148.78 L64.54,151.22 L62.51,156.22 L60.06,156.22Z M62.09,148.78 L64.12,143.78 L66.57,143.78 L66.57,146.22 L64.54,151.22 L62.09,151.22Z M64.12,143.78 L66.20,138.78 L68.65,138.78 L68.65,141.22 L66.57,146.22 L64.12,146.22Z M66.20,138.78 L68.34,133.78 L70.79,133.78 L70.79,136.22 L68.65,141.22 L66.20,141.22Z M68.34,133.78 L70.58,128.78 L73.02,128.78 L73.02,131.22 L70.79,136.22 L68.34,136.22Z M70.58,128.78 L72.95,123.66 L75.40,123.66 L75.40,126.11 L73.02,131.22 L70.58,131.22Z M72.95,123.66 L75.45,118.40 L77.90,118.40 L77.90,120.85 L75.40,126.11 L72.95,126.11Z M75.45,118.40 L78.02,113.15 L80.47,113.15 L80.47,115.60 L77.90,120.85 L75.45,120.85Z M78.02,113.15 L80.59,108.03 L83.04,108.03 L83.04,110.48 L80.47,115.60 L78.02,115.60Z M80.59,108.03 L83.08,103.20 L85.53,103.20 L85.53,105.65 L83.04,110.48 L80.59,110.48Z M83.08,103.20 L85.43,98.78 L87.88,98.78 L87.88,101.22 L85.53,105.65 L83.08,105.65Z M85.43,98.78 L87.66,94.76 L90.11,94.76 L90.11,97.21 L87.88,101.22 L85.43,101.22Z M87.66,94.76 L89.84,91.03 L92.29,91.03 L92.29,93.48 L90.11,97.21 L87.66,97.21Z M89.84,91.03 L91.94,87.58 L94.39,87.58 L94.39,90.02 L92.29,93.48 L89.84,93.48Z M91.94,87.58 L93.96,84.39 L96.41,84.39 L96.41,86.84 L94.39,90.02 L91.94,90.02Z M93.96,84.39 L95.86,81.46 L98.31,81.46 L98.31,83.91 L96.41,86.84 L93.96,86.84Z M95.86,81.46 L97.62,78.78 L100.07,78.78 L100.07,81.22 L98.31,83.91 L95.86,83.91Z M97.62,78.78 L99.23,76.38 L101.68,76.38 L101.68,78.83 L100.07,81.22 L97.62,81.22Z M99.23,76.38 L100.68,74.29 L103.13,74.29 L103.13,76.74 L101.68,78.83 L99.23,78.83Z M100.68,74.29 L102.02,72.46 L104.47,72.46 L104.47,74.91 L103.13,76.74 L100.68,76.74Z M102.02,72.46 L103.29,70.83 L105.74,70.83 L105.74,73.28 L104.47,74.91 L102.02,74.91Z M103.29,70.83 L104.53,69.36 L106.98,69.36 L106.98,71.81 L105.74,73.28 L103.29,73.28Z M104.53,69.36 L105.78,67.98 L108.22,67.98 L108.22,70.42 L106.98,71.81 L104.53,71.81Z M105.78,67.98 L107.01,66.75 L109.46,66.75 L109.46,69.20 L108.22,70.42 L105.78,70.42Z M107.01,66.75 L108.19,65.72 L110.64,65.72 L110.64,68.17 L109.46,69.20 L107.01,69.20Z M108.19,65.72 L109.35,64.85 L111.80,64.85 L111.80,67.30 L110.64,68.17 L108.19,68.17Z M109.35,64.85 L110.48,64.07 L112.93,64.07 L112.93,66.52 L111.80,67.30 L109.35,67.30Z M110.48,64.07 L111.62,63.33 L114.07,63.33 L114.07,65.78 L112.93,66.52 L110.48,66.52Z M111.62,63.33 L112.78,62.57 L115.22,62.57 L115.22,65.02 L114.07,65.78 L111.62,65.78Z M112.78,62.57 L113.94,61.82 L116.39,61.82 L116.39,64.27 L115.22,65.02 L112.78,65.02Z M113.94,61.82 L115.11,61.10 L117.56,61.10 L117.56,63.55 L116.39,64.27 L113.94,64.27Z M115.11,61.10 L116.28,60.42 L118.72,60.42 L118.72,62.88 L117.56,63.55 L115.11,63.55Z M116.28,60.42 L117.44,59.78 L119.89,59.78 L119.89,62.23 L118.72,62.88 L116.28,62.88Z M117.44,59.78 L118.61,59.17 L121.06,59.17 L121.06,61.62 L119.89,62.23 L117.44,62.23Z M118.61,59.17 L119.78,58.57 L122.22,58.57 L122.22,61.02 L121.06,61.62 L118.61,61.62Z M119.78,58.57 L120.92,58.01 L123.37,58.01 L123.37,60.46 L122.22,61.02 L119.78,61.02Z M120.92,58.01 L122.03,57.48 L124.48,57.48 L124.48,59.93 L123.37,60.46 L120.92,60.46Z M122.03,57.48 L123.15,56.97 L125.60,56.97 L125.60,59.42 L124.48,59.93 L122.03,59.93Z M123.15,56.97 L124.29,56.49 L126.74,56.49 L126.74,58.94 L125.60,59.42 L123.15,59.42Z M124.29,56.49 L125.49,56.03 L127.94,56.03 L127.94,58.48 L126.74,58.94 L124.29,58.94Z M125.49,56.03 L126.78,55.57 L129.22,55.57 L129.22,58.02 L127.94,58.48 L125.49,58.48Z M126.78,55.57 L128.16,55.12 L130.61,55.12 L130.61,57.57 L129.22,58.02 L126.78,58.02Z M128.16,55.12 L129.63,54.66 L132.08,54.66 L132.08,57.11 L130.61,57.57 L128.16,57.57Z M129.63,54.66 L131.15,54.22 L133.60,54.22 L133.60,56.67 L132.08,57.11 L129.63,57.11Z M131.15,54.22 L132.70,53.81 L135.15,53.81 L135.15,56.26 L133.60,56.67 L131.15,56.67Z M132.70,53.81 L134.25,53.46 L136.70,53.46 L136.70,55.91 L135.15,56.26 L132.70,56.26Z M134.25,53.46 L135.78,53.17 L138.22,53.17 L138.22,55.62 L136.70,55.91 L134.25,55.91Z M135.78,53.17 L137.28,52.97 L139.72,52.97 L139.72,55.42 L138.22,55.62 L135.78,55.62Z M137.28,52.97 L138.78,52.83 L141.22,52.83 L141.22,55.28 L139.72,55.42 L137.28,55.42Z M138.78,52.83 L140.28,52.74 L142.72,52.74 L142.72,55.19 L141.22,55.28 L138.78,55.28Z M140.28,52.74 L141.78,52.70 L144.22,52.70 L144.22,55.15 L142.72,55.19 L140.28,55.19Z M141.78,52.70 L143.28,52.68 L145.72,52.68 L145.72,55.13 L144.22,55.15 L141.78,55.15Z M143.28,52.68 L144.78,52.67 L147.22,52.67 L147.22,55.12 L145.72,55.13 L143.28,55.13Z M144.78,52.67 L147.22,52.67 L148.67,52.69 L148.67,55.14 L146.22,55.14 L144.78,55.12Z M146.22,52.69 L148.67,52.69 L150.04,52.73 L150.04,55.18 L147.59,55.18 L146.22,55.14Z M147.59,52.73 L150.04,52.73 L151.41,52.79 L151.41,55.24 L148.96,55.24 L147.59,55.18Z M148.96,52.79 L151.41,52.79 L152.85,52.89 L152.85,55.34 L150.40,55.34 L148.96,55.24Z M150.40,52.89 L152.85,52.89 L154.44,53.02 L154.44,55.47 L151.99,55.47 L150.40,55.34Z M151.99,53.02 L154.44,53.02 L156.22,53.17 L156.22,55.62 L153.78,55.62 L151.99,55.47Z M153.78,53.17 L156.22,53.17 L158.33,53.38 L158.33,55.83 L155.88,55.83 L153.78,55.62Z M155.88,53.38 L158.33,53.38 L160.71,53.63 L160.71,56.08 L158.26,56.08 L155.88,55.83Z M158.26,53.63 L160.71,53.63 L163.22,53.91 L163.22,56.36 L160.78,56.36 L158.26,56.08Z M160.78,53.91 L163.22,53.91 L165.74,54.20 L165.74,56.65 L163.29,56.65 L160.78,56.36Z M163.29,54.20 L165.74,54.20 L168.12,54.50 L168.12,56.95 L165.67,56.95 L163.29,56.65Z M165.67,54.50 L168.12,54.50 L170.22,54.77 L170.22,57.23 L167.78,57.23 L165.67,56.95Z M167.78,54.77 L170.22,54.77 L172.01,55.04 L172.01,57.49 L169.56,57.49 L167.78,57.23Z M169.56,55.04 L172.01,55.04 L173.60,55.30 L173.60,57.75 L171.15,57.75 L169.56,57.49Z M171.15,55.30 L173.60,55.30 L175.04,55.56 L175.04,58.01 L172.59,58.01 L171.15,57.75Z M172.59,55.56 L175.04,55.56 L176.41,55.83 L176.41,58.28 L173.96,58.28 L172.59,58.01Z M173.96,55.83 L176.41,55.83 L177.78,56.10 L177.78,58.55 L175.33,58.55 L173.96,58.28Z M175.33,56.10 L177.78,56.10 L179.22,56.38 L179.22,58.83 L176.78,58.83 L175.33,58.55Z M176.78,56.38 L179.22,56.38 L180.69,56.65 L180.69,59.10 L178.24,59.10 L176.78,58.83Z M178.24,56.65 L180.69,56.65 L182.11,56.93 L182.11,59.38 L179.66,59.38 L178.24,59.10Z M179.66,56.93 L182.11,56.93 L183.54,57.21 L183.54,59.66 L181.09,59.66 L179.66,59.38Z M181.09,57.21 L183.54,57.21 L185.00,57.50 L185.00,59.95 L182.55,59.95 L181.09,59.66Z M182.55,57.50 L185.00,57.50 L186.55,57.82 L186.55,60.27 L184.10,60.27 L182.55,59.95Z M184.10,57.82 L186.55,57.82 L188.22,58.17 L188.22,60.62 L185.78,60.62 L184.10,60.27Z M185.78,58.17 L188.22,58.17 L190.10,58.58 L190.10,61.03 L187.65,61.03 L185.78,60.62Z M187.65,58.58 L190.10,58.58 L192.15,59.04 L192.15,61.49 L189.70,61.49 L187.65,61.03Z M189.70,59.04 L192.15,59.04 L194.29,59.52 L194.29,61.97 L191.84,61.97 L189.70,61.49Z M191.84,59.52 L194.29,59.52 L196.41,60.01 L196.41,62.46 L193.96,62.46 L191.84,61.97Z M193.96,60.01 L196.41,60.01 L198.42,60.47 L198.42,62.92 L195.97,62.92 L193.96,62.46Z M195.97,60.47 L198.42,60.47 L200.22,60.88 L200.22,63.33 L197.78,63.33 L195.97,62.92Z M197.78,60.88 L200.22,60.88 L201.80,61.24 L201.80,63.69 L199.35,63.69 L197.78,63.33Z M199.35,61.24 L201.80,61.24 L203.22,61.57 L203.22,64.02 L200.78,64.02 L199.35,63.69Z M200.78,61.57 L203.22,61.57 L204.54,61.88 L204.54,64.33 L202.09,64.33 L200.78,64.02Z M202.09,61.88 L204.54,61.88 L205.78,62.16 L205.78,64.61 L203.33,64.61 L202.09,64.33Z M203.33,62.16 L205.78,62.16 L207.00,62.43 L207.00,64.88 L204.55,64.88 L203.33,64.61Z M204.55,62.43 L207.00,62.43 L208.22,62.67 L208.22,65.12 L205.78,65.12 L204.55,64.88Z M205.78,62.67 L208.22,62.67 L209.45,62.90 L209.45,65.35 L207.00,65.35 L205.78,65.12Z M207.00,62.90 L209.45,62.90 L210.63,63.10 L210.63,65.55 L208.18,65.55 L207.00,65.35Z M208.18,63.10 L210.63,63.10 L211.79,63.29 L211.79,65.74 L209.34,65.74 L208.18,65.55Z M209.34,63.29 L211.79,63.29 L212.93,63.46 L212.93,65.91 L210.48,65.91 L209.34,65.74Z M210.48,63.46 L212.93,63.46 L214.07,63.62 L214.07,66.07 L211.62,66.07 L210.48,65.91Z M211.62,63.62 L214.07,63.62 L215.22,63.77 L215.22,66.22 L212.78,66.22 L211.62,66.07Z M212.78,63.77 L215.22,63.77 L216.38,63.93 L216.38,66.38 L213.93,66.38 L212.78,66.22Z M213.93,63.93 L216.38,63.93 L217.52,64.07 L217.52,66.52 L215.07,66.52 L213.93,66.38Z M215.07,64.07 L217.52,64.07 L218.66,64.20 L218.66,66.65 L216.21,66.65 L215.07,66.52Z M216.21,64.20 L218.66,64.20 L219.82,64.33 L219.82,66.78 L217.37,66.78 L216.21,66.65Z M217.37,64.33 L219.82,64.33 L221.00,64.45 L221.00,66.90 L218.55,66.90 L217.37,66.78Z M218.55,64.45 L221.00,64.45 L222.22,64.58 L222.22,67.02 L219.78,67.02 L218.55,66.90Z M219.78,64.58 L222.22,64.58 L223.41,64.70 L223.41,67.15 L220.96,67.15 L219.78,67.02Z M220.96,64.70 L223.41,64.70 L224.52,64.82 L224.52,67.27 L222.07,67.27 L220.96,67.15Z M222.07,64.82 L224.52,64.82 L225.66,64.93 L225.66,67.38 L223.21,67.38 L222.07,67.27Z M223.21,64.93 L225.66,64.93 L226.93,65.05 L226.93,67.50 L224.48,67.50 L223.21,67.38Z M224.48,65.05 L226.93,65.05 L228.42,65.16 L228.42,67.61 L225.97,67.61 L224.48,67.50Z M225.97,65.16 L228.42,65.16 L230.22,65.28 L230.22,67.72 L227.78,67.72 L225.97,67.61Z M227.78,65.28 L230.22,65.28 L232.45,65.41 L232.45,67.86 L230.00,67.86 L227.78,67.72Z M230.00,65.41 L232.45,65.41 L235.04,65.55 L235.04,68.00 L232.59,68.00 L230.00,67.86Z M232.59,65.55 L235.04,65.55 L237.85,65.70 L237.85,68.15 L235.40,68.15 L232.59,68.00Z M235.40,65.70 L237.85,65.70 L240.74,65.83 L240.74,68.28 L238.29,68.28 L235.40,68.15Z M238.29,65.83 L240.74,65.83 L243.58,65.93 L243.58,68.38 L241.13,68.38 L238.29,68.28Z M241.13,65.93 L243.58,65.93 L246.22,65.98 L246.22,68.42 L243.78,68.42 L241.13,68.38Z M243.78,65.98 L248.66,65.98 L248.66,68.42 L243.78,68.42Z M246.21,65.98 L248.55,65.94 L251.00,65.94 L251.00,68.39 L248.66,68.42 L246.21,68.42Z M248.55,65.94 L250.84,65.88 L253.29,65.88 L253.29,68.32 L251.00,68.39 L248.55,68.39Z M250.84,65.88 L253.11,65.78 L255.56,65.78 L255.56,68.22 L253.29,68.32 L250.84,68.32Z M253.11,65.78 L255.41,65.64 L257.86,65.64 L257.86,68.09 L255.56,68.22 L253.11,68.22Z M255.41,65.64 L257.77,65.48 L260.23,65.48 L260.23,67.92 L257.86,68.09 L255.41,68.09Z M257.77,65.48 L260.22,65.27 L262.67,65.27 L262.67,67.72 L260.23,67.92 L257.77,67.92Z M260.22,65.27 L262.70,65.03 L265.15,65.03 L265.15,67.48 L262.67,67.72 L260.22,67.72Z M262.70,65.03 L265.21,64.76 L267.66,64.76 L267.66,67.21 L265.15,67.48 L262.70,67.48Z M265.21,64.76 L267.74,64.45 L270.19,64.45 L270.19,66.90 L267.66,67.21 L265.21,67.21Z M267.74,64.45 L270.26,64.12 L272.71,64.12 L272.71,66.57 L270.19,66.90 L267.74,66.90Z M270.26,64.12 L272.77,63.77 L275.23,63.77 L275.23,66.22 L272.71,66.57 L270.26,66.57Z M272.77,63.77 L275.27,63.40 L277.73,63.40 L277.73,65.85 L275.23,66.22 L272.77,66.22Z M275.27,63.40 L277.77,62.98 L280.23,62.98 L280.23,65.43 L277.73,65.85 L275.27,65.85Z M277.77,62.98 L280.27,62.54 L282.73,62.54 L282.73,64.99 L280.23,65.43 L277.77,65.43Z M280.27,62.54 L282.77,62.09 L285.23,62.09 L285.23,64.54 L282.73,64.99 L280.27,64.99Z M282.77,62.09 L285.27,61.63 L287.73,61.63 L287.73,64.08 L285.23,64.54 L282.77,64.54Z M285.27,61.63 L287.77,61.17 L290.23,61.17 L290.23,63.62 L287.73,64.08 L285.27,64.08Z M287.77,61.17 L290.27,60.72 L292.73,60.72 L292.73,63.17 L290.23,63.62 L287.77,63.62Z M290.27,60.72 L292.77,60.27 L295.23,60.27 L295.23,62.72 L292.73,63.17 L290.27,63.17Z M292.77,60.27 L295.27,59.81 L297.73,59.81 L297.73,62.26 L295.23,62.72 L292.77,62.72Z M295.27,59.81 L297.77,59.35 L300.23,59.35 L300.23,61.80 L297.73,62.26 L295.27,62.26Z M297.77,59.35 L300.27,58.87 L302.73,58.87 L302.73,61.32 L300.23,61.80 L297.77,61.80Z M300.27,58.87 L302.77,58.38 L305.23,58.38 L305.23,60.83 L302.73,61.32 L300.27,61.32Z M302.77,58.38 L305.27,57.87 L307.73,57.87 L307.73,60.32 L305.23,60.83 L302.77,60.83Z M305.27,57.87 L307.77,57.36 L310.23,57.36 L310.23,59.81 L307.73,60.32 L305.27,60.32Z M307.77,57.36 L310.27,56.83 L312.73,56.83 L312.73,59.28 L310.23,59.81 L307.77,59.81Z M310.27,56.83 L312.77,56.29 L315.23,56.29 L315.23,58.74 L312.73,59.28 L310.27,59.28Z M312.77,56.29 L315.27,55.74 L317.73,55.74 L317.73,58.19 L315.23,58.74 L312.77,58.74Z M315.27,55.74 L317.77,55.17 L320.23,55.17 L320.23,57.62 L317.73,58.19 L315.27,58.19Z M317.77,55.17 L320.27,54.59 L322.73,54.59 L322.73,57.04 L320.23,57.62 L317.77,57.62Z M320.27,54.59 L322.77,53.98 L325.23,53.98 L325.23,56.43 L322.73,57.04 L320.27,57.04Z M322.77,53.98 L325.27,53.36 L327.73,53.36 L327.73,55.81 L325.23,56.43 L322.77,56.43Z M325.27,53.36 L327.77,52.73 L330.23,52.73 L330.23,55.18 L327.73,55.81 L325.27,55.81Z M327.77,52.73 L330.27,52.10 L332.73,52.10 L332.73,54.55 L330.23,55.18 L327.77,55.18Z M330.27,52.10 L332.77,51.48 L335.23,51.48 L335.23,53.93 L332.73,54.55 L330.27,54.55Z M332.77,51.48 L335.27,50.85 L337.73,50.85 L337.73,53.30 L335.23,53.93 L332.77,53.93Z M335.27,50.85 L337.77,50.22 L340.23,50.22 L340.23,52.67 L337.73,53.30 L335.27,53.30Z M337.77,50.22 L340.27,49.58 L342.73,49.58 L342.73,52.03 L340.23,52.67 L337.77,52.67Z M340.27,49.58 L342.77,48.95 L345.23,48.95 L345.23,51.40 L342.73,52.03 L340.27,52.03Z M342.77,48.95 L345.27,48.31 L347.73,48.31 L347.73,50.76 L345.23,51.40 L342.77,51.40Z M345.27,48.31 L347.77,47.67 L350.23,47.67 L350.23,50.12 L347.73,50.76 L345.27,50.76Z M347.77,47.67 L350.27,47.04 L352.73,47.04 L352.73,49.49 L350.23,50.12 L347.77,50.12Z M350.27,47.04 L352.77,46.41 L355.23,46.41 L355.23,48.86 L352.73,49.49 L350.27,49.49Z M352.77,46.41 L355.27,45.77 L357.73,45.77 L357.73,48.23 L355.23,48.86 L352.77,48.86Z M355.27,45.77 L357.77,45.14 L360.23,45.14 L360.23,47.59 L357.73,48.23 L355.27,48.23Z M357.77,45.14 L360.27,44.51 L362.73,44.51 L362.73,46.96 L360.23,47.59 L357.77,47.59Z M360.27,44.51 L362.77,43.88 L365.23,43.88 L365.23,46.33 L362.73,46.96 L360.27,46.96Z" fill="#000"/>
</g>
<g fill="#000" stroke="#000" stroke-width="0.2">
<text x="41.90" y="219.7" font-family="Liberation Serif, serif" font-size="14" text-anchor="middle">1</text>
<text x="106.50" y="219.7" font-family="Liberation Serif, serif" font-size="14">10</text>
<text x="175.90" y="219.70" font-family="Liberation Serif, serif" font-size="14">10</text><text x="189.50" y="213.70" font-family="Liberation Serif, serif" font-size="9.7">2</text>
<text x="248.10" y="219.70" font-family="Liberation Serif, serif" font-size="14">10</text><text x="261.70" y="213.70" font-family="Liberation Serif, serif" font-size="9.7">3</text>
<text x="319.40" y="219.70" font-family="Liberation Serif, serif" font-size="14">10</text><text x="333.00" y="213.70" font-family="Liberation Serif, serif" font-size="9.7">4</text>
<text x="22.20" y="72.00" font-family="Liberation Serif, serif" font-size="14">10</text><text x="35.80" y="66.00" font-family="Liberation Serif, serif" font-size="9.7">4</text>
<text x="22.20" y="208.00" font-family="Liberation Serif, serif" font-size="14">10</text><text x="35.80" y="202.00" font-family="Liberation Serif, serif" font-size="9.7">3</text>
<text x="195.8" y="237.6" font-family="Liberation Serif, serif" font-size="14" text-anchor="middle">E(GeV)</text>
<g transform="translate(13.4,179.2) rotate(-90)"><text font-family="Liberation Serif, serif" font-size="14" x="0" y="0">E<tspan font-size="9" dy="-7.0">2.7</tspan><tspan dy="7.0"> dN/dE(GeV m</tspan><tspan font-size="9" dy="-7.0">-2</tspan><tspan dy="7.0"> s</tspan><tspan font-size="9" dy="-7.0">-1</tspan><tspan dy="7.0"> sr</tspan><tspan font-size="9" dy="-7.0">-1</tspan><tspan dy="7.0">)</tspan></text></g>
</g>
<g font-family="Liberation Sans, sans-serif" font-size="7.3" font-weight="bold" fill="#000" stroke="#000" stroke-width="0.25">
<text x="108" y="140.3">AMS02</text>
<text x="108.3" y="162.9">PAMELA</text>
<text x="106.4" y="185.4">ATIC</text>
<text x="168" y="140.4" font-size="7.9">CREAM</text>
<text x="168" y="163" font-size="7.9">JACEE</text>
<text x="168.3" y="185.5" font-size="7.9">RUNJOB</text>
<text x="248" y="145.6" font-size="7.55">Spatial-Dependent Model</text>
<text x="248" y="180.1" font-size="7.55">Conventional Model</text>
</g>
<line x1="219.3" y1="143.3" x2="243.3" y2="143.3" stroke="#000" stroke-width="3"/>
<line x1="219.3" y1="177.1" x2="243.3" y2="177.1" stroke="#00f" stroke-width="3" stroke-dasharray="14.6 3.4"/>
<circle cx="98.90" cy="137.60" r="1.60" fill="#ff0000"/>
<path d="M97.20,158.60 h3.4 l-1.7,3.3 z" fill="#d2d2d2"/>
<path d="M96.90,181.00 L99.00,182.00 L101.10,181.00 L100.10,183.10 L101.10,185.20 L99.00,184.20 L96.90,185.20 L97.90,183.10Z" fill="#ff0000"/>
<path d="M160.60,135.90 l1.9,3.3 h-3.8 z" fill="#fff" stroke="#333" stroke-width="0.85" stroke-linejoin="miter"/>
<circle cx="160.40" cy="160.60" r="1.05" fill="#ff0000"/>
<circle cx="160.40" cy="183.10" r="1.85" fill="#fff" stroke="#5b5bff" stroke-width="0.85"/>
</svg>
</body></html>
